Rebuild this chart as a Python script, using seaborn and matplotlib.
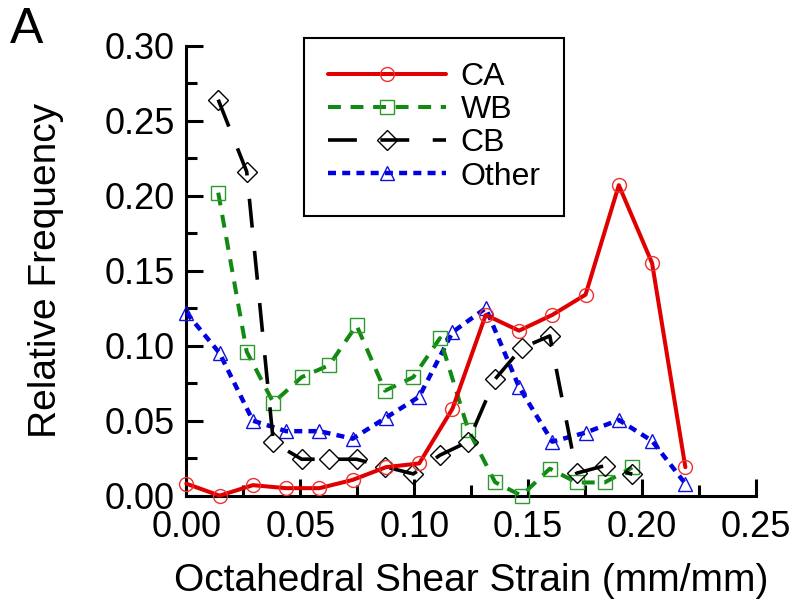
import matplotlib
matplotlib.use('Agg')
import matplotlib.pyplot as plt
import pandas as pd
import seaborn as sns

# bin positions (CA/Other share one grid, WB/CB another)
x_ca = [0.000, 0.0146, 0.0292, 0.0438, 0.0584, 0.0730, 0.0876, 0.1022,
        0.1168, 0.1314, 0.1460, 0.1606, 0.1752, 0.1898, 0.2044, 0.2190]
x_wb = [0.0140, 0.0265, 0.0382, 0.0506, 0.0627, 0.0747, 0.0872, 0.0996,
        0.1113, 0.1237, 0.1355, 0.1471, 0.1595, 0.1713, 0.1836, 0.1957]

ca = [0.008, 0.000, 0.007, 0.005, 0.005, 0.0105, 0.019, 0.0215,
      0.058, 0.1205, 0.110, 0.1205, 0.134, 0.207, 0.155, 0.019]
other = [0.122, 0.095, 0.050, 0.043, 0.043, 0.038, 0.052, 0.066,
         0.109, 0.125, 0.0725, 0.036, 0.042, 0.0505, 0.0365, 0.008]
wb = [0.202, 0.096, 0.062, 0.079, 0.087, 0.1136, 0.070, 0.079,
      0.105, 0.044, 0.009, 0.000, 0.018, 0.0088, 0.0088, 0.0188]
cb = [0.264, 0.216, 0.0355, 0.0243, 0.0243, 0.0243, 0.0193, 0.0145,
      0.027, 0.036, 0.0777, 0.0984, 0.1065, 0.015, 0.020, 0.0143]

x_ticks = [0.00, 0.05, 0.10, 0.15, 0.20, 0.25]
x_tick_labels = ['0.00', '0.05', '0.10', '0.15', '0.20', '0.25']
y_ticks = [0.00, 0.05, 0.10, 0.15, 0.20, 0.25, 0.30]
y_tick_labels = ['0.00', '0.05', '0.10', '0.15', '0.20', '0.25', '0.30']
x_minor = [0.025, 0.075, 0.125, 0.175, 0.225]
y_minor = [0.025, 0.075, 0.125, 0.175, 0.225, 0.275]


def draw_series(ax, x, y, label, color, marker, ms, ls, lw, mec, z):
    df = pd.DataFrame({'strain': x, 'freq': y})
    sns.lineplot(data=df, x='strain', y='freq', ax=ax, label=label,
                 errorbar=None, color=color, linewidth=lw, linestyle=ls,
                 marker=marker, markersize=ms, mfc='none', mec=mec,
                 mew=1.0, clip_on=False, zorder=z)


sns.set_style('ticks')
plt.rcParams['font.family'] = ['Liberation Sans', 'DejaVu Sans']
plt.rcParams['text.color'] = 'black'
plt.rcParams['axes.labelcolor'] = 'black'
plt.rcParams['xtick.color'] = 'black'
plt.rcParams['ytick.color'] = 'black'

fig = plt.figure(figsize=(8, 6.13), dpi=100)
ax = fig.add_axes([0.2329, 0.1914, 0.7121, 0.7341])

draw_series(ax, x_ca, ca, 'CA', '#e00000', 'o', 10, '-', 2.9, '#f03030', 6)
draw_series(ax, x_wb, wb, 'WB', '#108a10', 's', 9.5, (0, (3.2, 2.4)), 2.9, '#2e9a2e', 4)
draw_series(ax, x_wb, cb, 'CB', 'black', 'D', 10.5, (0, (8, 6.5)), 2.6, 'black', 5)
draw_series(ax, x_ca, other, 'Other', '#0000e0', '^', 10, (0, (1.8, 1.4)), 3.2, '#1010e0', 3)

ax.set_xlim(0, 0.25)
ax.set_ylim(0, 0.30)
ax.set_xticks(x_ticks)
ax.set_xticklabels(x_tick_labels)
ax.set_yticks(y_ticks)
ax.set_yticklabels(y_tick_labels)
ax.set_xticks(x_minor, minor=True)
ax.set_yticks(y_minor, minor=True)

ax.tick_params(which='major', direction='in', length=12.5, width=2.2,
               labelsize=26, color='black', labelcolor='black')
ax.tick_params(axis='x', which='major', pad=10)
ax.tick_params(axis='y', which='major', pad=8.5)
ax.tick_params(which='minor', direction='in', length=8, width=2.2, color='black')

for side in ['top', 'right']:
    ax.spines[side].set_visible(False)
for side in ['left', 'bottom']:
    ax.spines[side].set_linewidth(2.2)
    ax.spines[side].set_color('black')

ax.set_xlabel('Octahedral Shear Strain (mm/mm)', fontsize=28, color='black')
ax.set_ylabel('Relative Frequency', fontsize=28, color='black')
ax.xaxis.set_label_coords(0.5, -0.15)
ax.yaxis.set_label_coords(-0.215, 0.5)

leg = ax.legend(loc='upper left', bbox_to_anchor=(304 / 800, 1 - 38 / 613),
                bbox_transform=fig.transFigure, frameon=True, fancybox=False,
                edgecolor='black', fontsize=23, handlelength=3.7,
                handletextpad=0.45, borderpad=0.75, labelspacing=0.1,
                borderaxespad=0)
leg.get_frame().set_linewidth(1.5)
leg.get_frame().set_alpha(1)
for t in leg.get_texts():
    t.set_color('black')

fig.text(0.012, 0.988, 'A', fontsize=36, va='top', ha='left', color='black')

fig.savefig('out.png', dpi=100)
